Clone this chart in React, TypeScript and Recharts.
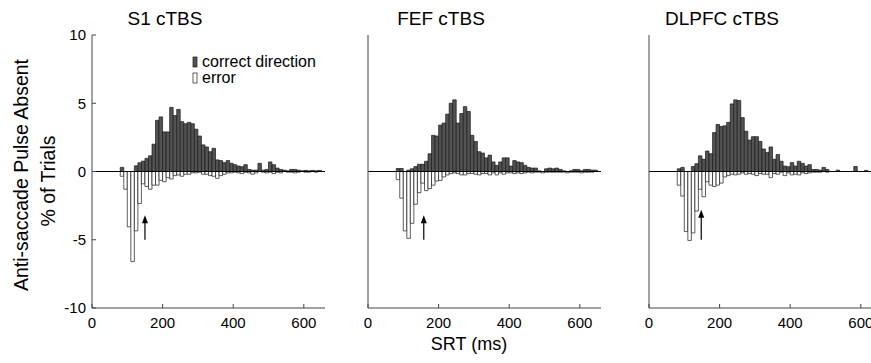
import React from 'react'
import { BarChart, Bar, XAxis, YAxis, ReferenceLine } from 'recharts'

// 10 ms bins (left edge, ms)
const bins = [
  80, 90, 100, 110, 120, 130, 140, 150, 160, 170,
  180, 190, 200, 210, 220, 230, 240, 250, 260, 270,
  280, 290, 300, 310, 320, 330, 340, 350, 360, 370,
  380, 390, 400, 410, 420, 430, 440, 450, 460, 470,
  480, 490, 500, 510, 520, 530, 540, 550, 560, 570,
  580, 590, 600, 610, 620, 630, 640,
]

const s1Correct = [
  0.3, 0, 0, 0, 0.42, 0.64, 0.76, 0.96, 1.15, 2.0,
  3.75, 4.0, 2.9, 2.9, 4.7, 4.1, 4.55, 3.65, 3.5, 3.6,
  3.5, 3.1, 2.6, 1.95, 1.8, 1.45, 1.7, 0.85, 0.8, 0.65,
  0.8, 0.6, 0.5, 0.4, 0.35, 0.5, 0.15, 0.1, 0.1, 0.6,
  0.1, 0.15, 0.7, 0.5, 0.25, 0.15, 0.1, 0.05, 0.15, 0.15,
  0.1, 0.05, 0.08, 0.05, 0.08, 0.05, 0.08,
]
const s1Error = [
  -0.35, -1.3, -4.05, -6.6, -4.35, -2.35, -0.9, -1.1, -1.3, -1.0,
  -1.0, -0.65, -0.75, -0.45, -0.55, -0.3, -0.25, -0.35, -0.2, -0.2,
  -0.1, -0.1, -0.05, -0.2, -0.2, -0.3, -0.35, -0.5, -0.3, -0.2,
  -0.1, -0.1, -0.05, -0.1, -0.15, -0.05, -0.1, -0.2, -0.1, 0,
  -0.05, -0.1, -0.05, -0.15, -0.05, -0.1, 0, -0.05, -0.05, -0.1,
  -0.05, 0, -0.05, -0.05, 0, -0.05, 0,
]

const s2Correct = [
  0.22, 0.22, 0, 0.1, 0.2, 0.36, 0.53, 0.53, 0.75, 1.3,
  2.65, 2.6, 3.4, 3.55, 4.2, 5.0, 5.25, 3.55, 4.25, 4.75,
  4.4, 2.65, 2.2, 1.45, 1.35, 1.0, 1.2, 0.7, 0.45, 0.7,
  1.0, 1.0, 0.4, 0.8, 0.7, 0.65, 0.45, 0.3, 0.25, 0.25,
  0.05, 0, 0.2, 0.25, 0.2, 0.25, 0.15, 0.05, 0, 0.05,
  0.15, 0.15, 0.05, 0.15, 0.15, 0.1, 0.1,
]
const s2Error = [
  -0.6, -1.95, -4.35, -4.9, -3.8, -2.4, -1.55, -0.85, -1.4, -1.25,
  -1.0, -0.7, -0.65, -0.4, -0.25, -0.15, -0.1, -0.15, -0.25, -0.25,
  -0.15, -0.15, -0.2, -0.25, -0.15, -0.15, -0.25, -0.1, -0.25, -0.1,
  -0.2, -0.1, -0.1, -0.15, -0.1, -0.15, -0.1, -0.05, -0.1, -0.05,
  -0.05, -0.1, -0.05, -0.05, -0.05, -0.05, -0.05, -0.05, -0.1, -0.05,
  -0.05, -0.05, -0.1, -0.05, -0.05, -0.05, 0,
]

const s3Correct = [
  0.2, 0.3, 0, 0, 0.37, 0.57, 1.15, 0.9, 1.5, 1.3,
  2.85, 3.45, 3.3, 3.35, 3.6, 4.95, 5.25, 5.2, 3.95, 2.95,
  2.3, 2.55, 2.55, 2.2, 1.65, 1.4, 1.8, 0.9, 1.25, 0.75,
  0.4, 0.35, 0.65, 0.4, 0.75, 0.6, 0.4, 0.5, 0.15, 0.15,
  0.1, 0.3, 0.15, 0, 0, 0.1, 0, 0, 0, 0,
  0.37, 0, 0, 0.08, 0, 0, 0,
]
const s3Error = [
  -1.0, -1.8, -4.4, -5.05, -4.5, -2.9, -1.3, -1.85, -0.75, -1.0,
  -1.1, -1.0, -0.85, -0.4, -0.3, -0.2, -0.25, -0.2, -0.1, -0.2,
  -0.15, -0.2, -0.3, -0.15, -0.2, -0.2, -0.45, -0.15, -0.2, -0.05,
  -0.3, -0.1, -0.25, -0.2, -0.25, -0.1, -0.15, -0.1, -0.05, -0.05,
  -0.05, 0, -0.05, 0, 0, 0, 0, 0, 0, 0,
  0, 0, 0, 0, 0, 0, 0,
]

const panelTitles = ['S1 cTBS', 'FEF cTBS', 'DLPFC cTBS']
const arrowX = [150, 158, 148]
const arrowTip = [-3.2, -3.2, -2.8]
const arrowTail = -5
const xTicks = [0, 200, 400, 600]
const yTicks = [-10, -5, 0, 5, 10]

const FONT = '"Liberation Sans", Arial, Helvetica, sans-serif'

function buildRows(correct: number[], error: number[]) {
  return bins.map((b, i) => ({
    t: b + 5,
    correct: correct[i] || null,
    error: error[i] || null,
  }))
}

const panels = [
  { title: panelTitles[0], rows: buildRows(s1Correct, s1Error), axisLeft: 92, titleX: 165 },
  { title: panelTitles[1], rows: buildRows(s2Correct, s2Error), axisLeft: 368, titleX: 441 },
  { title: panelTitles[2], rows: buildRows(s3Correct, s3Error), axisLeft: 649, titleX: 722 },
]

const Arrow = (props: any) => {
  const { x1, y1, x2, y2 } = props
  const x = (x1 + x2) / 2
  const top = Math.min(y1, y2)
  const bottom = Math.max(y1, y2)
  return (
    <g>
      <line x1={x} y1={top + 6} x2={x} y2={bottom} stroke="#000" strokeWidth={1.2} />
      <polygon points={`${x},${top} ${x - 3},${top + 8} ${x + 3},${top + 8}`} fill="#000" />
    </g>
  )
}

function Panel({ rows, showLabels, index }: { rows: any[]; showLabels: boolean; index: number }) {
  return (
    <BarChart
      width={303}
      height={363}
      data={rows}
      stackOffset="sign"
      margin={{ top: 35, right: 10, left: 0, bottom: 25 }}
      style={{ fontFamily: FONT }}
    >
      <XAxis
        dataKey="t"
        type="number"
        domain={[0, 660]}
        ticks={xTicks}
        allowDataOverflow
        height={30}
        stroke="#444"
        tickSize={-4}
        tickMargin={13}
        tick={{ fontSize: 15, fill: '#000' }}
      />
      <YAxis
        type="number"
        domain={[-10, 10]}
        ticks={yTicks}
        width={60}
        stroke="#444"
        tickSize={-4}
        tickMargin={10}
        tick={showLabels ? { fontSize: 15, fill: '#000' } : false}
      />
      <Bar
        dataKey="correct"
        stackId="s"
        barSize={3.5}
        fill="#535353"
        stroke="#1a1a1a"
        strokeWidth={0.7}
        isAnimationActive={false}
      />
      <Bar
        dataKey="error"
        stackId="s"
        barSize={3.5}
        fill="#ffffff"
        stroke="#1a1a1a"
        strokeWidth={0.7}
        isAnimationActive={false}
      />
      <ReferenceLine y={0} stroke="#000" strokeWidth={1} />
      <ReferenceLine
        segment={[
          { x: arrowX[index], y: arrowTail },
          { x: arrowX[index], y: arrowTip[index] },
        ]}
        shape={Arrow}
      />
    </BarChart>
  )
}

export default function App() {
  return (
    <div
      style={{
        position: 'absolute',
        left: 0,
        top: 0,
        width: 871,
        height: 363,
        overflow: 'hidden',
        background: '#fff',
        fontFamily: FONT,
      }}
    >
      {panels.map((p, i) => (
        <div key={p.title} style={{ position: 'absolute', left: p.axisLeft - 60, top: 0 }}>
          <Panel rows={p.rows} showLabels={i === 0} index={i} />
        </div>
      ))}
      <svg
        width={871}
        height={363}
        style={{ position: 'absolute', left: 0, top: 0, pointerEvents: 'none', fontFamily: FONT }}
      >
        {panels.map((p) => (
          <text key={p.title} x={p.titleX} y={25} textAnchor="middle" fontSize={19} fill="#000">
            {p.title}
          </text>
        ))}
        <text x={28} y={175} transform="rotate(-90 28 175)" textAnchor="middle" fontSize={19.5} fill="#000">
          Anti-saccade Pulse Absent
        </text>
        <text x={55} y={181} transform="rotate(-90 55 181)" textAnchor="middle" fontSize={19.5} fill="#000">
          % of Trials
        </text>
        <text x={469} y={350} textAnchor="middle" fontSize={18} fill="#000">
          SRT (ms)
        </text>
        <rect x={193} y={57} width={4} height={10} fill="#535353" stroke="#1a1a1a" strokeWidth={0.7} />
        <text x={202} y={66.5} fontSize={16} fill="#000">
          correct direction
        </text>
        <rect x={193} y={73} width={4} height={10} fill="#fff" stroke="#1a1a1a" strokeWidth={0.7} />
        <text x={202} y={83} fontSize={16} fill="#000">
          error
        </text>
      </svg>
    </div>
  )
}
